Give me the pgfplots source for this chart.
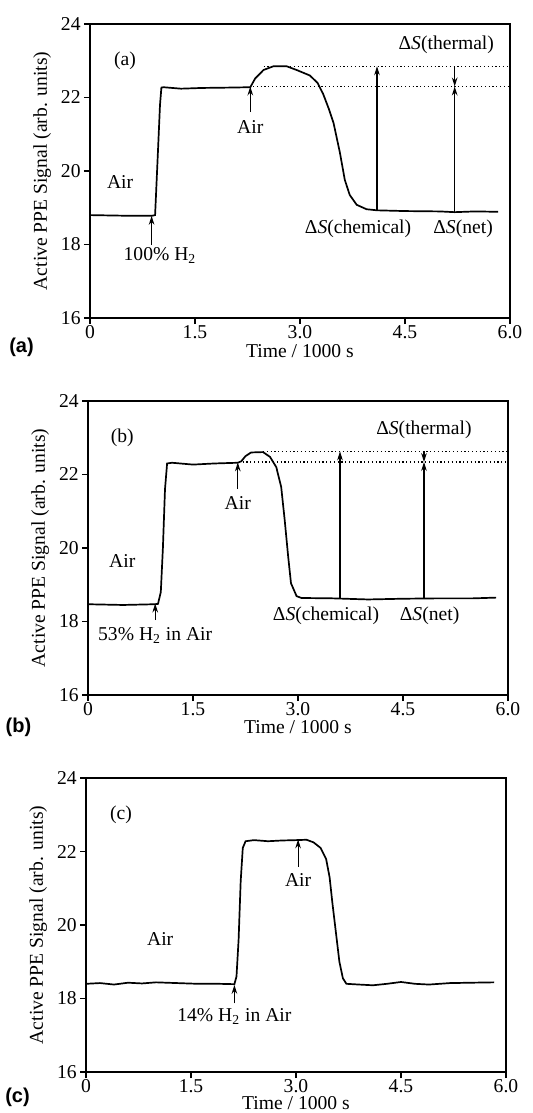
\documentclass[border=0pt]{standalone}
\usepackage{fontspec}
\setmainfont{Liberation Serif}
\newfontfamily\panelfont{Liberation Sans}
\usepackage{pgfplots}
\pgfplotsset{compat=1.18}
\usetikzlibrary{arrows.meta}

\pgfplotsset{
  ppe/.style={
    scale only axis, width=210pt, height=147pt,
    xmin=0, xmax=6, ymin=16, ymax=24,
    xtick={0,1.5,3,4.5,6}, xticklabels={0,1.5,3.0,4.5,6.0},
    ytick={16,18,20,22,24},
    tick align=outside, xtick pos=bottom, ytick pos=left,
    major tick length=3pt,
    axis line style={line width=0.7pt},
    tick style={line width=0.6pt, black},
    /pgf/number format/assume math mode=true,
    ticklabel style={font=\fontsize{9.8}{11}\selectfont},
    xticklabel style={inner sep=0.5pt},
    yticklabel style={inner sep=1.5pt},
    label style={font=\fontsize{9.8}{11}\selectfont},
    ylabel={Active PPE Signal (arb. units)},
    xlabel={Time / 1000 s},
    ylabel style={at={(axis description cs:-0.114,0.5)}, anchor=center, rotate=0},
    clip=false,
  },
  curve/.style={black, line width=0.85pt, no marks},
  dots/.style={black, line width=0.6pt, dash pattern=on 0.6pt off 1.3pt},
}
\tikzset{
  ann/.style={-{Stealth[length=4.5pt,width=2.8pt]}, line width=0.55pt},
  lbl/.style={font=\fontsize{9.8}{11}\selectfont, inner sep=0pt},
}

\begin{document}
\begin{tikzpicture}
\useasboundingbox (0,0) rectangle (266.5pt,-556.5pt);

% ---------- (a) ----------
\begin{axis}[ppe, at={(45pt,-159pt)}, anchor=south west,
  xlabel style={at={(axis description cs:0.5,-0.112)}, anchor=center}]
\addplot[curve] coordinates {
(0,18.80) (0.3,18.79) (0.6,18.78) (0.88,18.78) (0.93,18.80) (0.97,20.5)
(1.00,21.8) (1.02,22.27) (1.05,22.28) (1.3,22.24) (1.6,22.26) (2.0,22.27)
(2.29,22.28) (2.36,22.52) (2.48,22.75) (2.62,22.85) (2.81,22.85) (2.95,22.75)
(3.14,22.6) (3.25,22.4) (3.33,22.1) (3.41,21.7) (3.48,21.3) (3.57,20.5)
(3.64,19.76) (3.71,19.35) (3.81,19.08) (3.95,18.96) (4.10,18.93) (4.5,18.91)
(5.0,18.90) (5.21,18.88) (5.5,18.90) (5.83,18.89)};
\addplot[dots] coordinates {(2.48,22.85) (6,22.85)};
\addplot[dots] coordinates {(2.33,22.3) (6,22.3)};
\draw[ann] (axis cs:0.88,17.98) -- (axis cs:0.88,18.78);
\draw[ann] (axis cs:2.29,21.6) -- (axis cs:2.29,22.3);
\draw[ann] (axis cs:4.10,18.93) -- (axis cs:4.10,22.85);
\draw[ann] (axis cs:5.21,18.88) -- (axis cs:5.21,22.3);
\draw[ann] (axis cs:5.21,22.85) -- (axis cs:5.21,22.3);
\node[lbl] at (axis cs:1.0,17.7) {100\% H\textsubscript{2}};
\node[lbl] at (axis cs:2.29,21.2) {Air};
\node[lbl] at (axis cs:0.43,19.7) {Air};
\node[lbl] at (axis cs:0.5,23.0) {(a)};
\node[lbl] at (axis cs:5.09,23.43) {Δ\textit{S}(thermal)};
\node[lbl] at (axis cs:3.83,18.42) {Δ\textit{S}(chemical)};
\node[lbl] at (axis cs:5.33,18.42) {Δ\textit{S}(net)};
\end{axis}
\node[font=\panelfont\bfseries\fontsize{10}{12}\selectfont] at (10.75pt,-173.5pt) {(a)};

% ---------- (b) ----------
\begin{axis}[ppe, at={(44pt,-347.5pt)}, anchor=south west,
  xlabel style={at={(axis description cs:0.5,-0.108)}, anchor=center}]
\addplot[curve] coordinates {
(0,18.47) (0.5,18.45) (0.95,18.47) (1.00,18.48) (1.04,18.8) (1.07,20.0)
(1.10,21.6) (1.13,22.30) (1.2,22.32) (1.5,22.27) (1.8,22.30) (2.14,22.32)
(2.19,22.36) (2.25,22.50) (2.33,22.60) (2.50,22.61) (2.60,22.48) (2.69,22.2)
(2.76,21.66) (2.81,20.76) (2.86,19.76) (2.90,19.04) (2.98,18.69) (3.05,18.64)
(3.5,18.63) (4.0,18.60) (4.5,18.62) (5.0,18.63) (5.5,18.63) (5.83,18.65)};
\addplot[dots] coordinates {(2.5,22.63) (6,22.63)};
\addplot[dots] coordinates {(2.21,22.34) (6,22.34)};
\draw[ann] (axis cs:0.96,18.04) -- (axis cs:0.96,18.49);
\draw[ann] (axis cs:2.14,21.6) -- (axis cs:2.14,22.33);
\draw[ann] (axis cs:3.6,18.62) -- (axis cs:3.6,22.63);
\draw[ann] (axis cs:4.8,18.62) -- (axis cs:4.8,22.34);
\draw[ann] (axis cs:4.8,22.63) -- (axis cs:4.8,22.34);
\node[lbl] at (axis cs:0.96,17.63) {53\% H\textsubscript{2} in Air};
\node[lbl] at (axis cs:2.14,21.23) {Air};
\node[lbl] at (axis cs:0.49,19.65) {Air};
\node[lbl] at (axis cs:0.49,23.0) {(b)};
\node[lbl] at (axis cs:4.8,23.22) {Δ\textit{S}(thermal)};
\node[lbl] at (axis cs:3.4,18.15) {Δ\textit{S}(chemical)};
\node[lbl] at (axis cs:4.88,18.15) {Δ\textit{S}(net)};
\end{axis}
\node[font=\panelfont\bfseries\fontsize{10}{12}\selectfont] at (9.25pt,-363.5pt) {(b)};

% ---------- (c) ----------
\begin{axis}[ppe, at={(43pt,-536pt)}, anchor=south west,
  xlabel style={at={(axis description cs:0.5,-0.107)}, anchor=center}]
\addplot[curve] coordinates {
(0,18.40) (0.2,18.42) (0.4,18.38) (0.6,18.43) (0.8,18.41) (1.0,18.44)
(1.3,18.42) (1.6,18.40) (1.9,18.40) (2.12,18.39) (2.15,18.6) (2.18,19.6)
(2.21,21.2) (2.24,22.1) (2.28,22.28) (2.4,22.31) (2.6,22.28) (2.8,22.30)
(3.0,22.31) (3.15,22.32) (3.25,22.25) (3.35,22.10) (3.43,21.8) (3.48,21.3)
(3.52,20.6) (3.57,19.8) (3.62,19.0) (3.67,18.55) (3.72,18.40) (3.9,18.38)
(4.1,18.36) (4.3,18.40) (4.5,18.45) (4.7,18.40) (4.9,18.38) (5.2,18.42)
(5.5,18.43) (5.83,18.44)};
\draw[ann] (axis cs:2.12,17.87) -- (axis cs:2.12,18.37);
\draw[ann] (axis cs:3.03,21.58) -- (axis cs:3.03,22.33);
\node[lbl] at (axis cs:2.12,17.51) {14\% H\textsubscript{2} in Air};
\node[lbl] at (axis cs:3.03,21.22) {Air};
\node[lbl] at (axis cs:1.06,19.62) {Air};
\node[lbl] at (axis cs:0.5,23.0) {(c)};
\end{axis}
\node[font=\panelfont\bfseries\fontsize{10}{12}\selectfont] at (8.75pt,-548.5pt) {(c)};
\end{tikzpicture}
\end{document}
